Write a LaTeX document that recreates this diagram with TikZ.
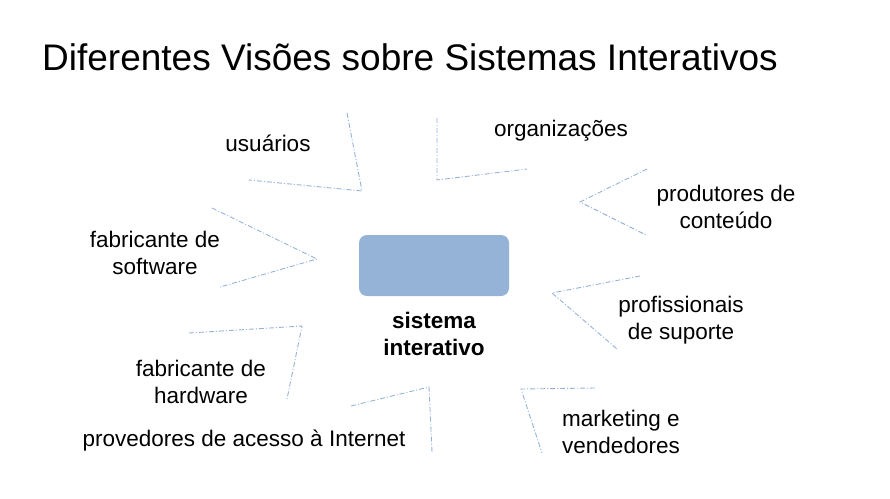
\documentclass[tikz,border=0pt]{standalone}
\usepackage{fontspec}
\setmainfont{Liberation Sans}
\begin{document}
\begin{tikzpicture}[x=1pt,y=-1pt,
  lbl/.style={font=\fontsize{22.5}{27}\selectfont, align=center, inner sep=0pt},
  conn/.style={draw={rgb,255:red,150;green,178;blue,215}, line width=0.9pt, dash pattern=on 5pt off 2pt on 1pt off 2pt},
  core/.style={fill={rgb,255:red,149;green,179;blue,215}, rounded corners=8pt}]
\useasboundingbox (0,0) rectangle (890,498);
\node[anchor=base west, inner sep=0pt, font=\fontsize{37}{40}\selectfont] (title) at (42,70) {Diferentes Visões sobre Sistemas Interativos};
\filldraw[core, draw=none] (359,235) rectangle (509,296);
\node[lbl, font=\bfseries\fontsize{22.5}{27}\selectfont] (core) at (434,334) {sistema\\interativo};
\node[lbl] (usu) at (268,143) {usuários};
\node[lbl] (org) at (561,131) {organizações};
\node[lbl] (prod) at (726,207) {produtores de\\conteúdo};
\node[lbl] (soft) at (155,253) {fabricante de\\software};
\node[lbl] (prof) at (681,320) {profissionais\\de suporte};
\node[lbl] (hard) at (201,382) {fabricante de\\hardware};
\node[lbl] (isp) at (244,441) {provedores de acesso à Internet};
\node[lbl] (mkt) at (621,432) {marketing e\\vendedores};
% connectors
\coordinate (u1) at (347,113); \coordinate (uv) at (362,191); \coordinate (u2) at (249,180);
\coordinate (o1) at (437,118); \coordinate (ov) at (437,180); \coordinate (o2) at (527,169);
\coordinate (p1) at (647,169); \coordinate (pv) at (580,202); \coordinate (p2) at (646,235);
\coordinate (s1) at (212,208); \coordinate (sv) at (317,259); \coordinate (s2) at (220,287);
\coordinate (f1) at (640,276); \coordinate (fv) at (552,293); \coordinate (f2) at (617,349);
\coordinate (h1) at (189,333); \coordinate (hv) at (302,326); \coordinate (h2) at (287,399);
\coordinate (i1) at (351,406); \coordinate (iv) at (429,387); \coordinate (i2) at (432,452);
\coordinate (m1) at (595,388); \coordinate (mv) at (521,389); \coordinate (m2) at (542,453);
\draw[conn] (u1) -- (uv) -- (u2);
\draw[conn] (o1) -- (ov) -- (o2);
\draw[conn] (p1) -- (pv) -- (p2);
\draw[conn] (s1) -- (sv) -- (s2);
\draw[conn] (f1) -- (fv) -- (f2);
\draw[conn] (h1) -- (hv) -- (h2);
\draw[conn] (i1) -- (iv) -- (i2);
\draw[conn] (m1) -- (mv) -- (m2);
\end{tikzpicture}
\end{document}
